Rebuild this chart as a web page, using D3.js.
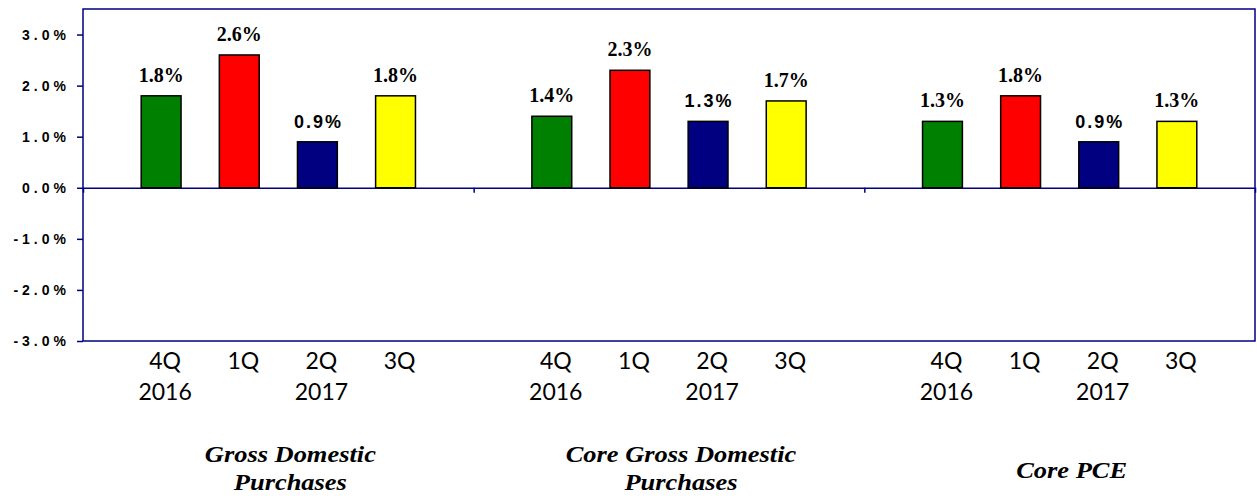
<!DOCTYPE html>
<html>
<head>
<meta charset="utf-8">
<script src="https://cdn.jsdelivr.net/npm/d3@7"></script>
<style>
  body { margin: 0; background: #fff; }
  .sans { font-family: "Liberation Sans", Arial, sans-serif; }
  .serif { font-family: "Liberation Serif", "Times New Roman", serif; }
  .cal { font-family: Lato, Carlito, Calibri, sans-serif; }
</style>
</head>
<body>
<div id="chart"></div>

<script>

// data
let groups = ["Gross Domestic Purchases", "Core Gross Domestic Purchases", "Core PCE"];
let titleLines = [["Gross Domestic", "Purchases"], ["Core Gross Domestic", "Purchases"], ["Core PCE"]];
let quarters = ["4Q", "1Q", "2Q", "3Q"];
let years = ["2016", "", "2017", ""];
let grossDomestic = [1.8, 2.6, 0.9, 1.8];
let coreGrossDomestic = [1.4, 2.3, 1.3, 1.7];
let corePCE = [1.3, 1.8, 0.9, 1.3];
let yTicks = [-3, -2, -1, 0, 1, 2, 3];

let series = [grossDomestic, coreGrossDomestic, corePCE];
let colors = ["#008000", "#ff0000", "#000080", "#ffff00"];
let navy = "#000080";

let svgWidth = 1257, svgHeight = 500;
let margin = {top: 9, right: 2, bottom: 159, left: 83};
let width = svgWidth - margin.left - margin.right,
    height = svgHeight - margin.top - margin.bottom;

let x0 = d3.scaleBand().domain(groups).range([0, width]);
let x1 = d3.scaleBand().domain(quarters).range([0, x0.bandwidth()])
    .paddingInner(0.49).paddingOuter(0.745);
let y = d3.scaleLinear().domain([-3, 3.5]).range([height, 0]);
let xEdge = d3.scaleLinear().domain([0, groups.length]).range([0, width]);

let svg = d3.select("#chart").append("svg")
    .attr("width", svgWidth)
    .attr("height", svgHeight);

let g = svg.append("g")
    .attr("transform", "translate(" + margin.left + "," + margin.top + ")");

// plot frame
g.append("rect")
    .attr("width", width)
    .attr("height", height)
    .attr("fill", "none")
    .attr("stroke", navy)
    .attr("stroke-width", 1.5);

// y axis
let yAxis = g.append("g")
    .call(d3.axisLeft(y).tickValues(yTicks).tickSize(6).tickPadding(7)
        .tickFormat(function(d) { return (d < 0 ? "-" : "") + Math.abs(d).toFixed(1) + "%"; }));
yAxis.attr("font-family", null).attr("font-size", null);
yAxis.select(".domain").remove();
yAxis.selectAll("line").attr("stroke", navy).attr("stroke-width", 1.5);
yAxis.selectAll("text")
    .attr("class", "sans")
    .attr("fill", "#000")
    .style("font-weight", "bold")
    .style("font-size", "14px")
    .style("letter-spacing", "4px");

// zero line with group dividers
let xAxis = g.append("g")
    .attr("transform", "translate(0," + y(0) + ")")
    .call(d3.axisBottom(xEdge).tickValues([1, 2]).tickSize(5).tickFormat(""));
xAxis.select(".domain").attr("stroke", navy).attr("stroke-width", 1.5);
xAxis.selectAll("line").attr("stroke", navy).attr("stroke-width", 1.5);

// bars
let groupSel = g.selectAll(".group")
    .data(groups)
    .enter()
    .append("g")
    .attr("class", "group")
    .attr("transform", function(d) { return "translate(" + x0(d) + ",0)"; });

let bars = groupSel.selectAll(".bar")
    .data(function(d, i) {
        return quarters.map(function(q, j) { return {q: q, j: j, v: series[i][j]}; });
    })
    .enter()
    .append("g");

bars.append("rect")
    .attr("class", "bar")
    .attr("x", function(d) { return x1(d.q); })
    .attr("y", function(d) { return y(d.v); })
    .attr("width", x1.bandwidth())
    .attr("height", function(d) { return y(0) - y(d.v); })
    .attr("fill", function(d) { return colors[d.j]; })
    .attr("stroke", "#000")
    .attr("stroke-width", 1.5);

// value labels, the 2Q ones are set in a spaced sans font like the original
bars.append("text")
    .text(function(d) { return d.v.toFixed(1) + "%"; })
    .attr("class", function(d) { return d.j == 2 ? "sans" : "serif"; })
    .attr("x", function(d) { return x1(d.q) + x1.bandwidth() / 2 + (d.j == 2 ? 1 : 0); })
    .attr("y", function(d) { return y(d.v) - 14; })
    .attr("text-anchor", "middle")
    .attr("fill", "#000")
    .style("font-weight", "bold")
    .style("font-size", function(d) { return d.j == 2 ? "18px" : "20px"; })
    .style("letter-spacing", function(d) { return d.j == 2 ? "2px" : "0px"; });

// category labels under the frame
let cats = groupSel.selectAll(".cat")
    .data(quarters)
    .enter()
    .append("text")
    .attr("class", "cal")
    .attr("x", function(d) { return x1(d) + x1.bandwidth() / 2 + 4; })
    .attr("y", height + 28)
    .attr("text-anchor", "middle")
    .style("font-size", "23px")
    .attr("fill", "#000");

cats.append("tspan")
    .text(function(d) { return d; });
cats.append("tspan")
    .attr("x", function(d) { return x1(d) + x1.bandwidth() / 2 + 4; })
    .attr("dy", 31)
    .text(function(d, j) { return years[j]; });

// group titles (the original text boxes are a little stretched sideways)
groupSel.append("text")
    .attr("class", "serif")
    .attr("transform", function(d, i) {
        let ty = titleLines[i].length > 1 ? height + 121 : height + 137;
        return "translate(" + (x0.bandwidth() / 2 + 12) + "," + ty + ") scale(1.15,1)";
    })
    .attr("text-anchor", "middle")
    .style("font-weight", "bold")
    .style("font-style", "italic")
    .style("font-size", "23px")
    .attr("fill", "#000")
    .selectAll("tspan")
    .data(function(d, i) { return titleLines[i]; })
    .enter()
    .append("tspan")
    .attr("x", 0)
    .attr("dy", function(d, k) { return k == 0 ? 0 : 28; })
    .text(function(d) { return d; });

</script>
</body>
</html>
